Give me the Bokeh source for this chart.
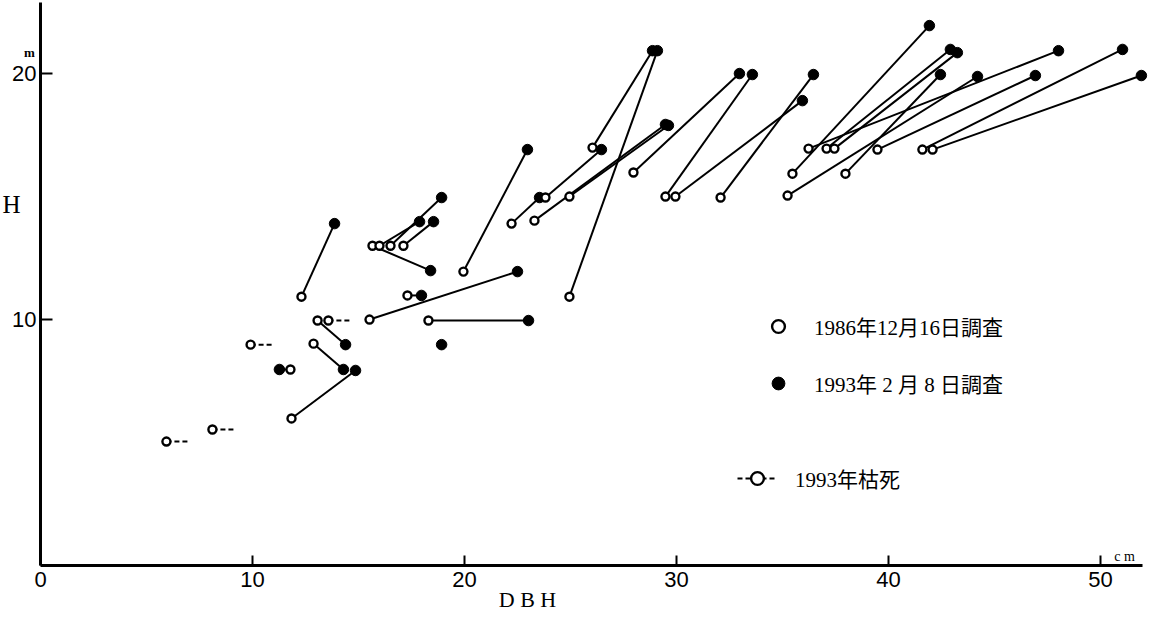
from bokeh.plotting import figure
from bokeh.models import Range1d, FixedTicker, Label, Legend, LegendItem, ColumnDataSource
from bokeh.embed import file_html
from bokeh.resources import INLINE

# Living trees: DBH (cm) and height H (m), 1986 survey (open) -> 1993 survey (filled)
dbh_1986 = [11.84, 12.31, 13.07, 12.88, 11.79, 15.52, 15.66, 15.99, 16.51, 17.12,
            17.31, 18.30, 19.95, 22.22, 23.82, 23.30, 24.95, 26.04, 24.95, 27.97,
            29.48, 29.95, 32.08, 35.24, 35.47, 36.23, 37.08, 37.45, 37.97, 39.48,
            41.60, 42.08]
h_1986 = [5.98, 10.93, 9.96, 9.02, 7.97, 10.00, 13.00, 13.00, 13.00, 13.00,
          10.98, 9.96, 11.95, 13.90, 14.96, 14.02, 15.00, 16.99, 10.93, 15.98,
          15.00, 15.00, 14.96, 15.04, 15.93, 16.95, 16.95, 16.95, 15.93, 16.91,
          16.91, 16.91]
dbh_1993 = [14.86, 13.87, 14.39, 14.29, 11.27, 22.50, 18.40, 17.88, 18.92, 18.54,
            17.97, 23.02, 22.97, 23.54, 26.46, 29.48, 29.62, 28.87, 29.10, 32.97,
            33.58, 35.94, 36.46, 44.20, 41.93, 48.02, 42.92, 43.25, 42.45, 46.93,
            51.04, 51.93]
h_1993 = [7.93, 13.90, 8.98, 7.97, 7.97, 11.95, 11.99, 13.98, 14.96, 13.98,
          10.98, 9.96, 16.91, 14.96, 16.91, 17.93, 17.89, 20.93, 20.93, 20.00,
          19.96, 18.90, 19.96, 19.88, 21.95, 20.93, 20.98, 20.85, 19.96, 19.92,
          20.98, 19.92]

# Trees dead by 1993 (1986 values)
dbh_dead = [5.94, 8.11, 9.91, 13.58]
h_dead = [5.04, 5.53, 8.98, 9.96]

# Tree recorded only in 1993
dbh_new = [18.92]
h_new = [8.98]

x_ticks = [0, 10, 20, 30, 40, 50]
y_ticks = [10, 20]
X_MAX = 51.98
Y_MAX = 22.9

NUM_FONT = "Liberation Sans Narrow, Liberation Sans"
JP_FONT = "Liberation Serif, Noto Sans CJK JP"

p = figure(width=1150, height=614, output_backend="svg", toolbar_location=None,
           x_range=Range1d(-1.887, 52.36), y_range=Range1d(-1.99, 22.97),
           min_border=0, min_border_left=0, min_border_right=0,
           min_border_top=0, min_border_bottom=0)
p.outline_line_color = None
p.xgrid.visible = False
p.ygrid.visible = False
p.background_fill_color = "white"

for ax in (p.xaxis[0], p.yaxis[0]):
    ax.fixed_location = 0
    ax.axis_line_width = 3
    ax.axis_line_color = "black"
    ax.major_tick_out = 0
    ax.major_tick_line_width = 2
    ax.minor_tick_line_color = None
    ax.major_label_text_font = NUM_FONT
    ax.major_label_text_font_size = "22px"
    ax.major_label_text_color = "black"

p.xaxis.ticker = FixedTicker(ticks=x_ticks)
p.xaxis.bounds = (0, X_MAX)
p.xaxis.major_tick_in = 10
p.xaxis.major_label_standoff = 6
p.yaxis.ticker = FixedTicker(ticks=y_ticks)
p.yaxis.bounds = (0, Y_MAX)
p.yaxis.major_tick_in = 12
p.yaxis.major_label_standoff = 4

src = ColumnDataSource(dict(x0=dbh_1986, y0=h_1986, x1=dbh_1993, y1=h_1993))
p.segment(x0="x0", y0="y0", x1="x1", y1="y1", source=src, line_color="black", line_width=2)

dead_src = ColumnDataSource(dict(x=dbh_dead, y=h_dead))
ray_r = p.ray(x="x", y="y", length=21, length_units="screen", angle=0, source=dead_src,
              line_color="black", line_width=2, line_dash="5 3")

filled_r = p.scatter(x="x1", y="y1", source=src, marker="circle", size=10.5,
                     fill_color="black", line_color="black", line_width=1)
p.scatter(x=dbh_new, y=h_new, marker="circle", size=10.5,
          fill_color="black", line_color="black", line_width=1)
open_r = p.scatter(x="x0", y="y0", source=src, marker="circle", size=8,
                   fill_color="white", line_color="black", line_width=2.4)
dead_r = p.scatter(x="x", y="y", source=dead_src, marker="circle", size=8,
                   fill_color="white", line_color="black", line_width=2.4)

def make_legend(label, renderers, loc, gw, standoff):
    leg = Legend(items=[LegendItem(label=label, renderers=renderers)], location=loc,
                 padding=0, margin=0, border_line_color=None, background_fill_alpha=0,
                 glyph_width=gw, glyph_height=32, label_height=32, label_standoff=standoff,
                 label_text_font=JP_FONT, label_text_font_size="21px", label_text_color="black")
    p.add_layout(leg)

make_legend("1986年12月16日調査", [open_r], (762, 272), 32, 20)
make_legend("1993年 2 月 8 日調査", [filled_r], (762, 215), 32, 20)
make_legend("1993年枯死", [ray_r, dead_r], (737, 120), 40, 18)

def lab(text, x, y, size, font="Liberation Serif", style="normal", align="center"):
    p.add_layout(Label(x=x, y=y, x_units="screen", y_units="screen", text=text,
                       text_font=font, text_font_size=size, text_font_style=style,
                       text_align=align, text_baseline="middle", text_color="black"))

lab("H", 11, 410, "25px")
lab("m", 29, 562, "13px", style="bold")
lab("D B H", 527, 15, "22px")
lab("c m", 1124, 58, "14px")

open("out.html", "w").write(file_html(p, INLINE))
